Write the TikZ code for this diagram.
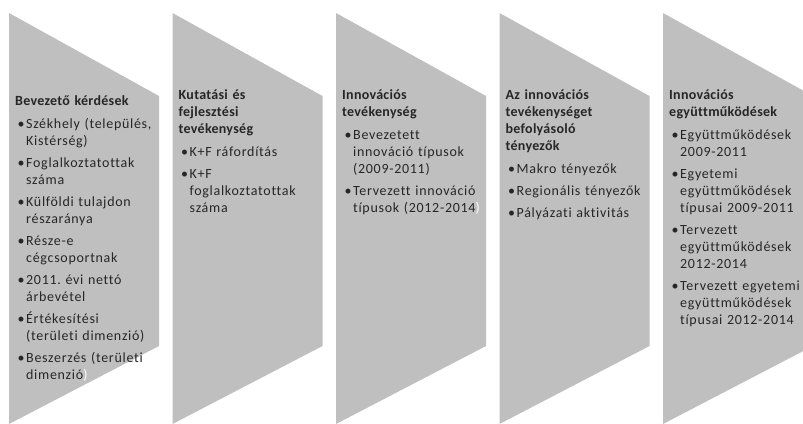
\documentclass[tikz,border=0pt]{standalone}
\usepackage{fontspec}
\setmainfont{Carlito}[LetterSpace=5, Ligatures=NoCommon, BoldFeatures={LetterSpace=2}]
\usetikzlibrary{positioning}

\tikzset{
	stage/.style={fill=black!25},
	stagetext/.style={anchor=north west, inner sep=0pt, text width=170pt, align=left,
		font=\fontsize{14}{17}\selectfont\frenchspacing, text=black!85},
}
\newcommand{\stagehead}[1]{\textbf{#1}\par\vspace{6pt}}
\newcommand{\stageitem}[1]{\hangindent=11pt\hangafter=1\noindent\makebox[11pt][l]{\hspace{2.5pt}\textbullet}#1\par\vspace{5pt}}

\begin{document}
\begin{tikzpicture}[x=1pt, y=-1pt]
	\useasboundingbox (0,0) rectangle (803,423);
	% Stage shapes
	\begin{scope}
		\clip (0,0) rectangle (803,423);
		\foreach \i in {0,...,4} {
			\fill[stage] ({9+163.5*\i},13) -- ({159+163.5*\i},96) -- ({159+163.5*\i},346) -- ({9+163.5*\i},424) -- cycle;
		}
	\end{scope}
	% Stage 1
	\node[stagetext] (s1) at (15,95) {%
		\stagehead{Bevezető kérdések}
		\stageitem{Székhely (település,\newline Kistérség)}
		\stageitem{Foglalkoztatottak\newline száma}
		\stageitem{Külföldi tulajdon\newline részaránya}
		\stageitem{Része-e\newline cégcsoportnak}
		\stageitem{2011. évi nettó\newline árbevétel}
		\stageitem{Értékesítési\newline (területi dimenzió)}
		\stageitem{Beszerzés (területi\newline dimenzió\textcolor{white}{)}}};
	% Stage 2
	\node[stagetext] (s2) at (178.5,89) {%
		\stagehead{Kutatási és\\fejlesztési\\tevékenység}
		\stageitem{K+F ráfordítás}
		\stageitem{K+F\newline foglalkoztatottak\newline száma}};
	% Stage 3
	\node[stagetext] (s3) at (342,89) {%
		\stagehead{Innovációs\\tevékenység}
		\stageitem{Bevezetett\newline innováció típusok\newline (2009-2011)}
		\stageitem{Tervezett innováció\newline típusok (2012-2014\textcolor{white}{)}}};
	% Stage 4
	\node[stagetext] (s4) at (505.5,89) {%
		\stagehead{Az innovációs\\tevékenységet\\befolyásoló\\tényezők}
		\stageitem{Makro tényezők}
		\stageitem{Regionális tényezők}
		\stageitem{Pályázati aktivitás}};
	% Stage 5
	\node[stagetext] (s5) at (669,89) {%
		\stagehead{Innovációs\\együttműködések}
		\stageitem{Együttműködések\newline 2009-2011}
		\stageitem{Egyetemi\newline együttműködések\newline típusai 2009-2011}
		\stageitem{Tervezett\newline együttműködések\newline 2012-2014}
		\stageitem{Tervezett egyetemi\newline együttműködések\newline típusai 2012-2014}};
\end{tikzpicture}
\end{document}
